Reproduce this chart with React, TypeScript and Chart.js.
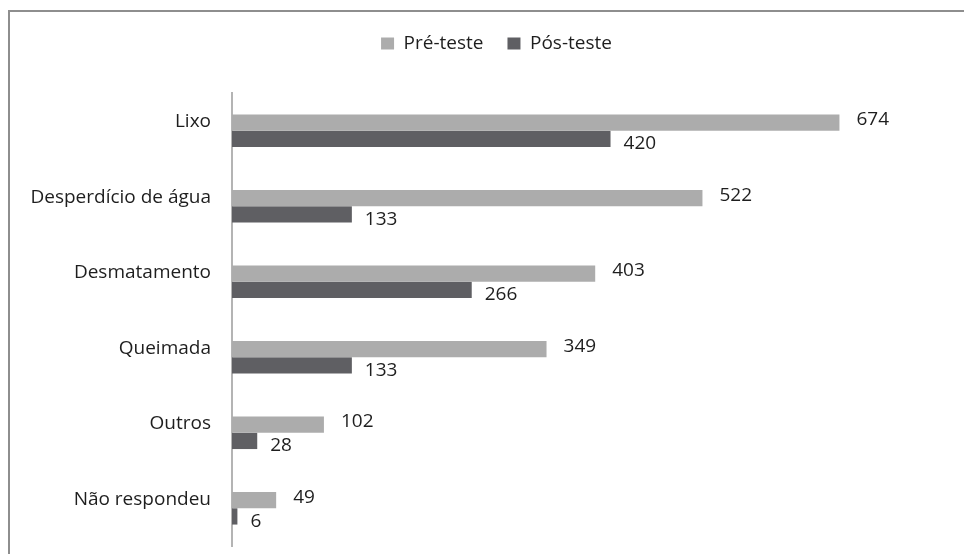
import React, { useEffect, useRef } from "react";
import { Chart, registerables } from "chart.js";

Chart.register(...registerables);

const categories = ["Lixo", "Desperdício de água", "Desmatamento", "Queimada", "Outros", "Não respondeu"];
const preTeste = [674, 522, 403, 349, 102, 49];
const posTeste = [420, 133, 266, 133, 28, 6];
const seriesNames = ["Pré-teste", "Pós-teste"];
const xMin = 0;
const xMax = 800;

const FONT = "'Open Sans', sans-serif";
const TEXT = "#1e1e1e";
const PRE_COLOR = "#acacac";
const POS_COLOR = "#5f5f63";

const valueLabels = {
  id: "valueLabels",
  afterDatasetsDraw(chart: any, _args: any, opts: any) {
    const ctx = chart.ctx;
    ctx.save();
    ctx.font = `${opts.size}px ${FONT}`;
    ctx.fillStyle = opts.color;
    ctx.textAlign = "left";
    ctx.textBaseline = "middle";
    chart.data.datasets.forEach((ds: any, di: number) => {
      const meta = chart.getDatasetMeta(di);
      const off = opts.offsets[di];
      meta.data.forEach((bar: any, i: number) => {
        ctx.fillText(String(ds.data[i]), bar.x + off.dx, bar.y + off.dy);
      });
    });
    ctx.restore();
  },
};

// let the category labels extend into the left padding (no clipping at the scale's left edge)
const unclipLabels = {
  id: "unclipLabels",
  afterLayout(chart: any) {
    if (chart.scales.y) chart.scales.y.left = 0;
  },
};

export default function App() {
  const canvasRef = useRef<HTMLCanvasElement | null>(null);

  useEffect(() => {
    if (!canvasRef.current) return;
    const chart = new Chart(canvasRef.current, {
      type: "bar",
      data: {
        labels: categories,
        datasets: [
          { label: seriesNames[0], data: preTeste, backgroundColor: PRE_COLOR, borderWidth: 0 },
          { label: seriesNames[1], data: posTeste, backgroundColor: POS_COLOR, borderWidth: 0 },
        ],
      },
      options: {
        indexAxis: "y",
        responsive: true,
        maintainAspectRatio: false,
        animation: false,
        layout: { padding: { top: 10, left: 40, right: 11, bottom: 8 } },
        datasets: { bar: { barPercentage: 1, categoryPercentage: 0.432 } },
        scales: {
          x: {
            position: "top",
            min: xMin,
            max: xMax,
            ticks: { display: false },
            grid: { display: false },
            border: { display: false },
            afterFit: (s: any) => {
              s.height = 30;
            },
          },
          y: {
            ticks: {
              color: TEXT,
              font: { family: FONT, size: 19 },
              padding: 21,
              labelOffset: -9,
            },
            grid: { display: false, drawTicks: false },
            border: { display: true, color: "#b4b4b4", width: 2 },
            afterFit: (s: any) => {
              s.width = 192;
              s.paddingTop = 0;
              s.paddingBottom = 0;
            },
          },
        },
        plugins: {
          legend: {
            position: "top",
            labels: {
              boxWidth: 13,
              boxHeight: 12,
              padding: 24,
              color: TEXT,
              font: { family: FONT, size: 19 },
            },
          },
          tooltip: { enabled: false },
          valueLabels: {
            size: 19,
            color: TEXT,
            offsets: [
              { dx: 17, dy: -3 },
              { dx: 13, dy: 5 },
            ],
          },
        } as any,
      },
      plugins: [valueLabels, unclipLabels],
    } as any);
    return () => chart.destroy();
  }, []);

  return (
    <div style={{ position: "fixed", left: 0, top: 0, width: 964, height: 554, overflow: "hidden", background: "#fff" }}>
      <div
        style={{
          position: "absolute",
          left: 8,
          top: 10,
          width: 1200,
          height: 1200,
          borderTop: "2px solid #8e8e8e",
          borderLeft: "2px solid #8e8e8e",
        }}
      />
      <div style={{ position: "absolute", left: 0, top: 0, width: 964, height: 554 }}>
        <canvas ref={canvasRef} />
      </div>
    </div>
  );
}
